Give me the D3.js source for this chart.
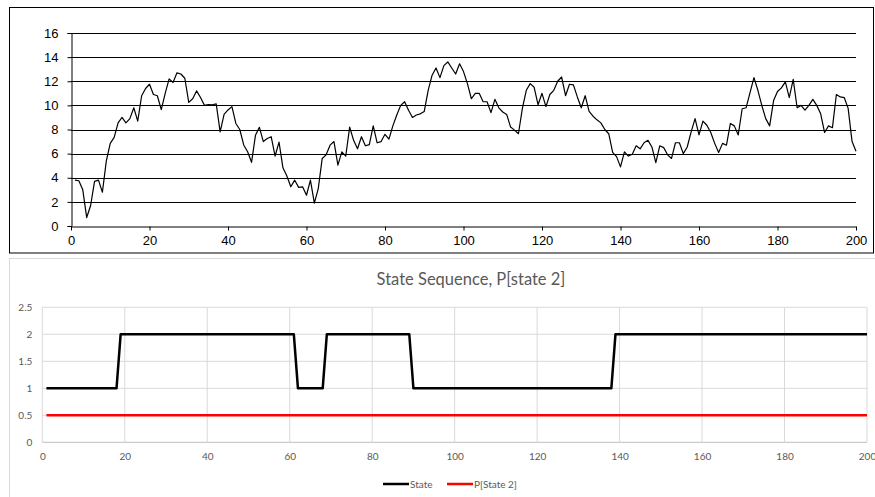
<!DOCTYPE html>
<html>
<head>
<meta charset="utf-8">
<script src="https://cdn.jsdelivr.net/npm/d3@7/dist/d3.min.js"></script>
<style>
  html, body { margin: 0; padding: 0; background: #fff; }
  svg { display: block; }
</style>
</head>
<body>
<svg id="chart" width="875" height="497"></svg>
<script>
// ---------- DATA ----------
const signal = [
  3.8, 3.75, 3.0, 0.7, 1.7, 3.7, 3.8, 2.8, 5.4, 6.85,
  7.35, 8.55, 9.0, 8.55, 8.9, 9.8, 8.7, 10.8, 11.4, 11.75,
  10.9, 10.8, 9.65, 11.0, 12.2, 11.9, 12.7, 12.6, 12.25, 10.25,
  10.55, 11.2, 10.65, 10.0, 10.07, 10.05, 10.12, 7.8, 9.25, 9.62,
  9.9, 8.5, 8.0, 6.72, 6.15, 5.28, 7.52, 8.18, 7.0, 7.25,
  7.4, 5.8, 6.95, 4.82, 4.15, 3.25, 3.8, 3.2, 3.25, 2.55,
  3.8, 1.9, 3.1, 5.6, 5.9, 6.7, 7.0, 5.05, 6.15, 5.8,
  8.2, 7.1, 6.4, 7.4, 6.65, 6.75, 8.3, 6.9, 7.0, 7.6,
  7.2, 8.3, 9.2, 10.0, 10.3, 9.6, 9.0, 9.2, 9.3, 9.5,
  11.25, 12.5, 13.1, 12.3, 13.3, 13.6, 13.1, 12.6, 13.45, 12.8,
  11.8, 10.55, 11.0, 11.0, 10.3, 10.3, 9.4, 10.5, 9.8, 9.45,
  9.25, 8.2, 7.95, 7.65, 9.75, 11.25, 11.8, 11.5, 10.05, 11.0,
  9.9, 10.9, 11.25, 12.0, 12.35, 10.8, 11.75, 11.7, 10.7, 9.8,
  10.8, 9.5, 9.1, 8.8, 8.55, 8.0, 7.65, 6.1, 5.75, 4.9,
  6.15, 5.8, 5.95, 6.65, 6.4, 6.9, 7.1, 6.55, 5.25, 6.65,
  6.5, 5.9, 5.6, 6.9, 6.9, 6.0, 6.55, 7.8, 8.9, 7.55,
  8.7, 8.35, 7.75, 6.85, 6.1, 6.85, 6.7, 8.5, 8.3, 7.55,
  9.72, 9.8, 11.05, 12.3, 11.25, 10.0, 8.9, 8.3, 10.4, 11.15,
  11.45, 11.95, 10.65, 12.15, 9.8, 10.0, 9.6, 10.0, 10.5, 10.0,
  9.3, 7.75, 8.3, 8.15, 10.9, 10.7, 10.65, 9.75, 7.0, 6.2
];

const state = [
  1,1,1,1,1,1,1,1,1,1, 1,1,1,1,1,1,1,1,2,2,
  2,2,2,2,2,2,2,2,2,2, 2,2,2,2,2,2,2,2,2,2,
  2,2,2,2,2,2,2,2,2,2, 2,2,2,2,2,2,2,2,2,2,
  2,1,1,1,1,1,1,1,2,2, 2,2,2,2,2,2,2,2,2,2,
  2,2,2,2,2,2,2,2,2,1, 1,1,1,1,1,1,1,1,1,1,
  1,1,1,1,1,1,1,1,1,1, 1,1,1,1,1,1,1,1,1,1,
  1,1,1,1,1,1,1,1,1,1, 1,1,1,1,1,1,1,1,2,2,
  2,2,2,2,2,2,2,2,2,2, 2,2,2,2,2,2,2,2,2,2,
  2,2,2,2,2,2,2,2,2,2, 2,2,2,2,2,2,2,2,2,2,
  2,2,2,2,2,2,2,2,2,2, 2,2,2,2,2,2,2,2,2,2
];

const pState2 = [
  0.5,0.5,0.5,0.5,0.5,0.5,0.5,0.5,0.5,0.5, 0.5,0.5,0.5,0.5,0.5,0.5,0.5,0.5,0.5,0.5,
  0.5,0.5,0.5,0.5,0.5,0.5,0.5,0.5,0.5,0.5, 0.5,0.5,0.5,0.5,0.5,0.5,0.5,0.5,0.5,0.5,
  0.5,0.5,0.5,0.5,0.5,0.5,0.5,0.5,0.5,0.5, 0.5,0.5,0.5,0.5,0.5,0.5,0.5,0.5,0.5,0.5,
  0.5,0.5,0.5,0.5,0.5,0.5,0.5,0.5,0.5,0.5, 0.5,0.5,0.5,0.5,0.5,0.5,0.5,0.5,0.5,0.5,
  0.5,0.5,0.5,0.5,0.5,0.5,0.5,0.5,0.5,0.5, 0.5,0.5,0.5,0.5,0.5,0.5,0.5,0.5,0.5,0.5,
  0.5,0.5,0.5,0.5,0.5,0.5,0.5,0.5,0.5,0.5, 0.5,0.5,0.5,0.5,0.5,0.5,0.5,0.5,0.5,0.5,
  0.5,0.5,0.5,0.5,0.5,0.5,0.5,0.5,0.5,0.5, 0.5,0.5,0.5,0.5,0.5,0.5,0.5,0.5,0.5,0.5,
  0.5,0.5,0.5,0.5,0.5,0.5,0.5,0.5,0.5,0.5, 0.5,0.5,0.5,0.5,0.5,0.5,0.5,0.5,0.5,0.5,
  0.5,0.5,0.5,0.5,0.5,0.5,0.5,0.5,0.5,0.5, 0.5,0.5,0.5,0.5,0.5,0.5,0.5,0.5,0.5,0.5,
  0.5,0.5,0.5,0.5,0.5,0.5,0.5,0.5,0.5,0.5, 0.5,0.5,0.5,0.5,0.5,0.5,0.5,0.5,0.5,0.5
];

const topYTicks = [0, 2, 4, 6, 8, 10, 12, 14, 16];
const topXTicks = [0, 20, 40, 60, 80, 100, 120, 140, 160, 180, 200];
const botYTicks = [0, 0.5, 1, 1.5, 2, 2.5];
const botXTicks = [0, 20, 40, 60, 80, 100, 120, 140, 160, 180, 200];
const chartTitle = "State Sequence, P[state 2]";
const legendLabels = ["State", "P[State 2]"];

// ---------- DRAW ----------
const svg = d3.select("#chart");

// ===== Top chart =====
svg.append("rect")
  .attr("x", 9.5).attr("y", 7.5)
  .attr("width", 864).attr("height", 245.5)
  .attr("fill", "#fff").attr("stroke", "#000").attr("stroke-width", 1);

const xT = d3.scaleLinear().domain([0, 200]).range([71, 856]);
const yT = d3.scaleLinear().domain([0, 16]).range([226, 33]);

const gTop = svg.append("g").attr("font-family", "'Liberation Sans', Arial, sans-serif");

// gridlines
gTop.append("g").selectAll("line").data(topYTicks.filter(d => d > 0)).join("line")
  .attr("x1", xT(0)).attr("x2", xT(200))
  .attr("y1", d => Math.round(yT(d)) + 0.5).attr("y2", d => Math.round(yT(d)) + 0.5)
  .attr("stroke", "#000").attr("stroke-width", 1);

// y axis
const yAxisTop = d3.axisLeft(yT).tickValues(topYTicks).tickSize(4).tickPadding(9);
const gy = gTop.append("g").attr("transform", `translate(${Math.round(xT(0)) + 0.5},0)`).call(yAxisTop);
gy.select(".domain").attr("stroke", "#000");
gy.selectAll(".tick line").attr("stroke", "#000");
gy.selectAll(".tick text").attr("font-size", 13).attr("fill", "#000")
  .attr("font-family", "'Liberation Sans', Arial, sans-serif");

// x axis
const xAxisTop = d3.axisBottom(xT).tickValues(topXTicks).tickSize(4).tickPadding(5).tickSizeOuter(0);
const gx = gTop.append("g").attr("transform", `translate(0,${Math.round(yT(0)) + 0.5})`).call(xAxisTop);
gx.select(".domain").attr("stroke", "#000");
gx.selectAll(".tick line").attr("stroke", "#000");
gx.selectAll(".tick text").attr("font-size", 13).attr("fill", "#000")
  .attr("font-family", "'Liberation Sans', Arial, sans-serif");

// line
const lineTop = d3.line().x((d, i) => xT(i + 1)).y(d => yT(d));
gTop.append("path").datum(signal)
  .attr("d", lineTop).attr("fill", "none")
  .attr("stroke", "#000").attr("stroke-width", 1.2).attr("stroke-linejoin", "round");

// ===== Bottom chart =====
svg.append("rect")
  .attr("x", 9.5).attr("y", 258.5)
  .attr("width", 880).attr("height", 260)
  .attr("fill", "#fff").attr("stroke", "#d9d9d9").attr("stroke-width", 1);

const xB = d3.scaleLinear().domain([0, 200]).range([42.3, 867]);
const yB = d3.scaleLinear().domain([0, 2.5]).range([442.3, 307.3]);
const fontB = "Lato, 'Open Sans', sans-serif";
const gB = svg.append("g").attr("font-family", fontB);

// title
gB.append("text")
  .attr("x", 471).attr("y", 284.5)
  .attr("text-anchor", "middle")
  .attr("font-size", 16.5).attr("fill", "#595959")
  .text(chartTitle);

// gridlines
gB.append("g").selectAll("line").data(botYTicks).join("line")
  .attr("x1", xB(0)).attr("x2", xB(200))
  .attr("y1", d => yB(d)).attr("y2", d => yB(d))
  .attr("stroke", d => d === 0 ? "#bfbfbf" : "#d9d9d9").attr("stroke-width", 1);
gB.append("g").selectAll("line").data(botXTicks).join("line")
  .attr("x1", d => xB(d)).attr("x2", d => xB(d))
  .attr("y1", yB(0)).attr("y2", yB(2.5))
  .attr("stroke", "#d9d9d9").attr("stroke-width", 1);

// axes labels via d3 axes
const yAxisB = d3.axisLeft(yB).tickValues(botYTicks).tickSize(0).tickPadding(10)
  .tickFormat(d => String(d));
const gyB = gB.append("g").attr("transform", `translate(${xB(0)},0)`).call(yAxisB);
gyB.select(".domain").remove();
gyB.selectAll(".tick text").attr("font-size", 10).attr("fill", "#595959").attr("font-family", fontB);

const xAxisB = d3.axisBottom(xB).tickValues(botXTicks).tickSize(0).tickPadding(11);
const gxB = gB.append("g").attr("transform", `translate(0,${yB(0)})`).call(xAxisB);
gxB.select(".domain").remove();
gxB.selectAll(".tick text").attr("font-size", 10).attr("fill", "#595959").attr("font-family", fontB);

// series lines
const lineB = d3.line().x((d, i) => xB(i + 1)).y(d => yB(d));
gB.append("path").datum(pState2)
  .attr("d", lineB).attr("fill", "none")
  .attr("stroke", "#ff0000").attr("stroke-width", 2.5);
gB.append("path").datum(state)
  .attr("d", lineB).attr("fill", "none")
  .attr("stroke", "#000").attr("stroke-width", 2.5).attr("stroke-linejoin", "round");

// legend
const legend = gB.append("g");
const legItems = [
  { label: legendLabels[0], color: "#000", x1: 383, x2: 409 },
  { label: legendLabels[1], color: "#ff0000", x1: 447, x2: 473 }
];
legItems.forEach(it => {
  legend.append("line")
    .attr("x1", it.x1).attr("x2", it.x2).attr("y1", 484).attr("y2", 484)
    .attr("stroke", it.color).attr("stroke-width", 2.5);
  legend.append("text")
    .attr("x", it.x2 + 1).attr("y", 487.5)
    .attr("font-size", 10).attr("fill", "#595959")
    .text(it.label);
});
</script>
</body>
</html>
